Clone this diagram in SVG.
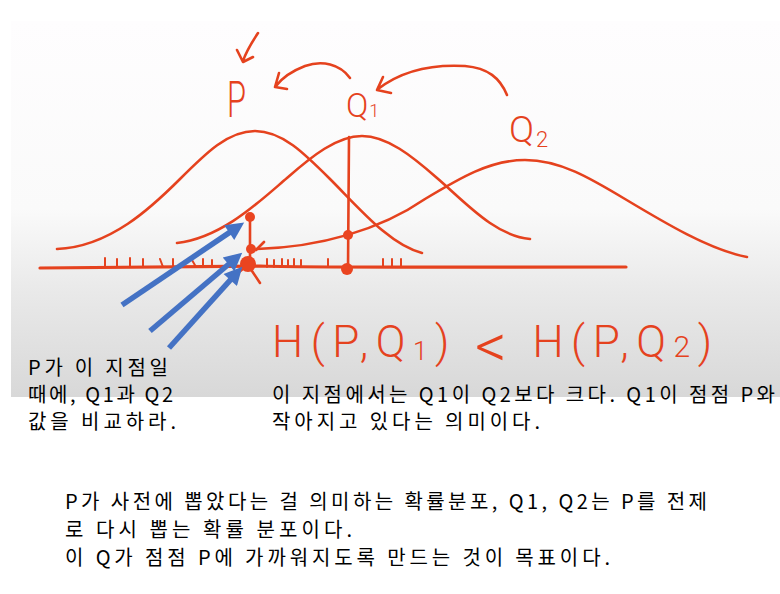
<svg xmlns="http://www.w3.org/2000/svg" width="780" height="594" viewBox="0 0 780 594">
<defs>
  <linearGradient id="boardGrad" x1="0" y1="0" x2="0" y2="1">
    <stop offset="0" stop-color="#fefdfe"/>
    <stop offset="0.5" stop-color="#fafafa"/>
    <stop offset="0.72" stop-color="#e9e9e9"/>
    <stop offset="1" stop-color="#d8d8d8"/>
  </linearGradient>
  <marker id="blueHead" viewBox="0 0 10 10" refX="5" refY="5" markerUnits="userSpaceOnUse" markerWidth="21" markerHeight="18" orient="auto">
    <path d="M0,0 L10,5 L0,10 z" fill="#4472c4"/>
  </marker>
  <style>
    .ink { fill: none; stroke: #e5421e; stroke-width: 2.6; stroke-linecap: round; stroke-linejoin: round; }
    .axis { fill: none; stroke: #e5421e; stroke-width: 3.2; stroke-linecap: round; }
    .tick { fill: none; stroke: #e5421e; stroke-width: 2; stroke-linecap: round; }
    .dot { fill: #ea4420; }
    .blue { fill: none; stroke: #4472c4; stroke-width: 5.5; marker-end: url(#blueHead); }
    .hand { fill: #e5421e; font-family: Roboto, "Open Sans", "Liberation Sans", sans-serif; font-weight: 300; }
    .note { fill: #000000; font-family: "Noto Sans CJK KR", "Noto Sans", sans-serif; font-size: 20px; }
  </style>
</defs>

<g id="board">
  <rect x="11" y="21" width="769" height="376" fill="url(#boardGrad)"/>
</g>

<g id="axis">
  <path class="axis" d="M40,268 C120,267 200,267 260,266 C340,268 480,267 626,267"/>
  <path class="tick" d="M105,258 V267 M117,259 V267 M130,258 V267 M143,259 V267 M160,259 L163,267 M173,259 V267 M192,260 L196,267 M203,259 V267 M212,260 V267 M267,259 V267 M274,260 V267 M282,259 V267 M288,260 V267 M294,259 V267 M301,260 V267 M328,259 V267 M383,259 V267 M392,259 V267 M401,259 V267"/>
</g>

<g id="curves">
  <path id="curveP" class="ink" d="M57,249 C110,247 152,207 180,179 C206,153 228,131 255,131 C282,131 304,153 330,179 C360,209 390,245 422,253"/>
  <path id="curveQ1" class="ink" d="M177,243 C222,238 260,201 287,178 C312,156 337,136 362,136 C387,136 412,156 437,178 C465,202 495,236 530,239"/>
  <path id="curveQ2" class="ink" d="M257,249 C320,247 380,230 425,199 C460,178 490,160 525,160 C560,160 590,178 625,199 C665,223 710,250 747,257"/>
  <path class="ink" d="M250,217 L250,265"/>
  <path class="ink" d="M349,137 L348,270"/>
  <path class="ink" d="M256,250 L264,242 M252,271 L260,283 M238,273 L244,268"/>
</g>

<g id="points">
  <circle class="dot" cx="250" cy="217" r="5"/>
  <circle class="dot" cx="251" cy="249" r="5"/>
  <circle class="dot" cx="248" cy="264" r="8"/>
  <circle class="dot" cx="348" cy="235" r="5"/>
  <circle class="dot" cx="347" cy="269" r="6"/>
</g>

<g id="connectors">
  <path class="ink" d="M258,33 C252,42 246,52 243,61 M237,50 L243,62 L253,57"/>
  <path class="ink" d="M350,78 C340,64 322,60 305,66 C292,71 282,78 276,86 M279,73 L275,87 L287,89"/>
  <path class="ink" d="M507,95 C500,78 488,68 465,66 C430,64 400,72 378,89 M383,77 L377,90 L391,93"/>
  <path class="blue" d="M122,305 L236.7,227.6"/>
  <path class="blue" d="M150,331 L235.4,258.5"/>
  <path class="blue" d="M169,348 L236.3,273.4"/>
</g>

<g id="labels">
  <text class="hand" x="227" y="117" font-size="50" textLength="19" lengthAdjust="spacingAndGlyphs">P</text>
  <text class="hand" x="346" y="117" font-size="33">Q<tspan dx="1" font-size="18">1</tspan></text>
  <text class="hand" x="509" y="142" font-size="37">Q<tspan dx="2" dy="5" font-size="22">2</tspan></text>
  <text id="formula" class="hand" x="272" y="357" font-size="44" textLength="440" lengthAdjust="spacing">H(P,Q<tspan font-size="26" dy="3">1</tspan><tspan dy="-3">) </tspan><tspan font-size="62" dy="10">&lt;</tspan><tspan dy="-10"> H(P,Q</tspan><tspan font-size="30">2</tspan>)</text>
</g>

<g id="notes">
  <text class="note" x="28" y="375" textLength="140">P가 이 지점일</text>
  <text class="note" x="28" y="402" textLength="145">때에, Q1과 Q2</text>
  <text class="note" x="28" y="429" textLength="148">값을 비교하라.</text>
  <text class="note" x="272" y="402" textLength="503">이 지점에서는 Q1이 Q2보다 크다. Q1이 점점 P와</text>
  <text class="note" x="272" y="429" textLength="268">작아지고 있다는 의미이다.</text>
  <text class="note" x="65" y="509" textLength="642">P가 사전에 뽑았다는 걸 의미하는 확률분포, Q1, Q2는 P를 전제</text>
  <text class="note" x="65" y="537" textLength="287">로 다시 뽑는 확률 분포이다.</text>
  <text class="note" x="65" y="565" textLength="545">이 Q가 점점 P에 가까워지도록 만드는 것이 목표이다.</text>
</g>
</svg>
